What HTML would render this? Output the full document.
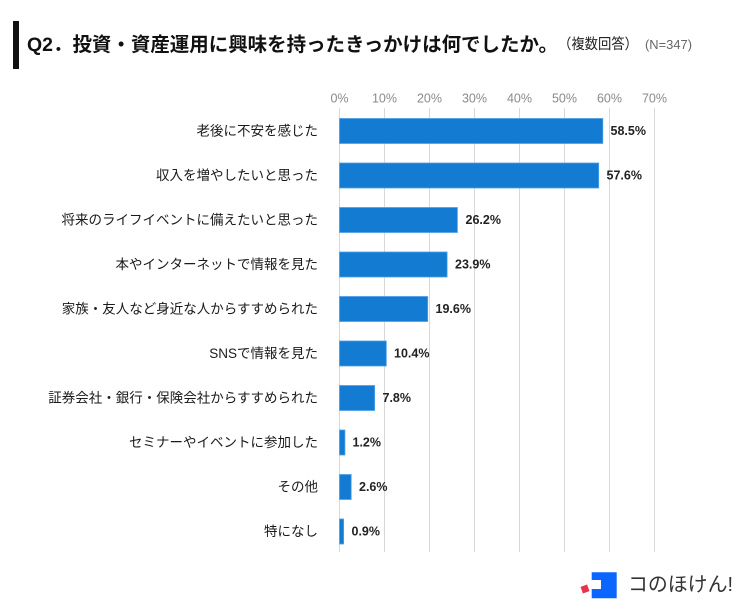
<!DOCTYPE html>
<html><head><meta charset="utf-8"><style>
html,body{margin:0;padding:0;background:#fff;}
svg{display:block;}
text{font-family:"Liberation Sans","Noto Sans CJK JP",sans-serif;}
</style></head><body>
<svg width="750" height="615" viewBox="0 0 750 615" xmlns="http://www.w3.org/2000/svg">
<rect width="750" height="615" fill="#fff"/>
<!-- title -->
<rect x="13" y="21" width="6" height="48" fill="#111"/>
<text x="27" y="45" dominant-baseline="central" font-size="19.5" font-weight="bold" fill="#111" textLength="531" lengthAdjust="spacingAndGlyphs">Q2．投資・資産運用に興味を持ったきっかけは何でしたか。</text>
<text x="558" y="45" dominant-baseline="central" font-size="14.5" fill="#222" textLength="80" lengthAdjust="spacingAndGlyphs">（複数回答）</text>
<text x="645" y="45" dominant-baseline="central" font-size="12.5" fill="#666" textLength="47" lengthAdjust="spacingAndGlyphs">(N=347)</text>

<!-- grid -->
<g stroke="#d8d8d8" stroke-width="1">
<line x1="339.5" y1="108" x2="339.5" y2="552"/>
<line x1="384.5" y1="108" x2="384.5" y2="552"/>
<line x1="429.5" y1="108" x2="429.5" y2="552"/>
<line x1="474.5" y1="108" x2="474.5" y2="552"/>
<line x1="519.5" y1="108" x2="519.5" y2="552"/>
<line x1="564.5" y1="108" x2="564.5" y2="552"/>
<line x1="609.5" y1="108" x2="609.5" y2="552"/>
<line x1="654.5" y1="108" x2="654.5" y2="552"/>
</g>
<g font-size="12.5" fill="#8a8a8a" text-anchor="middle">
<text x="339.5" y="102.5">0%</text>
<text x="384.5" y="102.5">10%</text>
<text x="429.5" y="102.5">20%</text>
<text x="474.5" y="102.5">30%</text>
<text x="519.5" y="102.5">40%</text>
<text x="564.5" y="102.5">50%</text>
<text x="609.5" y="102.5">60%</text>
<text x="654.5" y="102.5">70%</text>
</g>

<!-- bars -->
<g fill="#137bd2" stroke="#4fa0e8" stroke-width="0.8">
<rect x="339.5" y="118.5" width="263.3" height="25"/>
<rect x="339.5" y="163" width="259.2" height="25"/>
<rect x="339.5" y="207.5" width="117.9" height="25"/>
<rect x="339.5" y="252" width="107.6" height="25"/>
<rect x="339.5" y="296.5" width="88.2" height="25"/>
<rect x="339.5" y="341" width="46.8" height="25"/>
<rect x="339.5" y="385.5" width="35.1" height="25"/>
<rect x="339.5" y="430" width="5.4" height="25"/>
<rect x="339.5" y="474.5" width="11.7" height="25"/>
<rect x="339.5" y="519" width="4.1" height="25"/>
</g>

<!-- values -->
<g font-size="12.5" font-weight="bold" fill="#222" dominant-baseline="central">
<text x="610.5" y="131">58.5%</text>
<text x="606.5" y="175.5">57.6%</text>
<text x="465.5" y="220">26.2%</text>
<text x="455" y="264.5">23.9%</text>
<text x="435.5" y="309">19.6%</text>
<text x="394" y="353.5">10.4%</text>
<text x="382.5" y="398">7.8%</text>
<text x="352.5" y="442.5">1.2%</text>
<text x="359" y="487">2.6%</text>
<text x="351.5" y="531.5">0.9%</text>
</g>

<!-- category labels -->
<g font-size="13.5" fill="#1a1a1a" text-anchor="end" dominant-baseline="central">
<text x="318" y="131">老後に不安を感じた</text>
<text x="318" y="175.5">収入を増やしたいと思った</text>
<text x="318" y="220">将来のライフイベントに備えたいと思った</text>
<text x="318" y="264.5">本やインターネットで情報を見た</text>
<text x="318" y="309">家族・友人など身近な人からすすめられた</text>
<text x="318" y="353.5">SNSで情報を見た</text>
<text x="318" y="398">証券会社・銀行・保険会社からすすめられた</text>
<text x="318" y="442.5">セミナーやイベントに参加した</text>
<text x="318" y="487">その他</text>
<text x="318" y="531.5">特になし</text>
</g>

<!-- logo -->
<rect x="581.5" y="585.5" width="7" height="7" fill="#e8334a" transform="rotate(-20 585 589)"/>
<path d="M591.7 572.3 H616.7 V598.3 H591.7 V589 H601 V580 H591.7 Z" fill="#0a66ff"/>
<text x="628" y="585" dominant-baseline="central" font-size="20" fill="#333" textLength="105" lengthAdjust="spacingAndGlyphs">コのほけん!</text>
</svg>
</body></html>
